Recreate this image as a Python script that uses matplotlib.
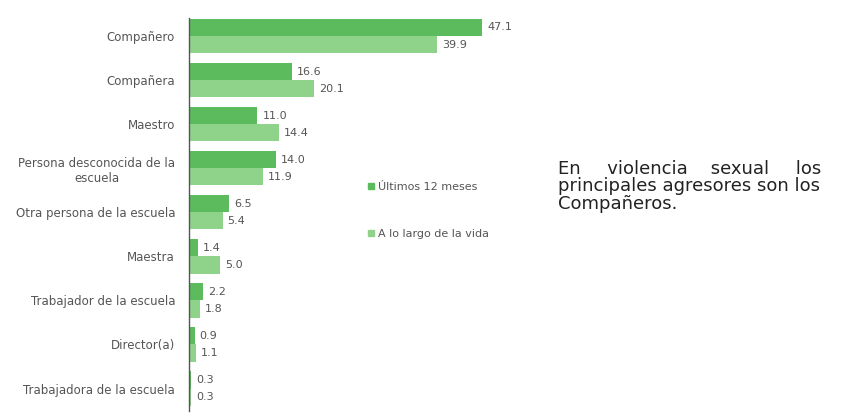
import matplotlib.pyplot as plt
import numpy as np
from matplotlib.patches import Patch

categories = [
    "Compañero",
    "Compañera",
    "Maestro",
    "Persona desconocida de la\nescuela",
    "Otra persona de la escuela",
    "Maestra",
    "Trabajador de la escuela",
    "Director(a)",
    "Trabajadora de la escuela",
]
ultimos_12 = [47.1, 16.6, 11.0, 14.0, 6.5, 1.4, 2.2, 0.9, 0.3]
toda_vida = [39.9, 20.1, 14.4, 11.9, 5.4, 5.0, 1.8, 1.1, 0.3]
series_labels = ["Últimos 12 meses", "A lo largo de la vida"]

dark_green = "#5cbb5c"
light_green = "#8fd38a"
text_gray = "#555555"

plt.rcParams['font.family'] = ['DejaVu Sans']

fig = plt.figure(figsize=(8.47, 4.15), dpi=100)
# axes: x from 189 px, y from bottom edge up to 14 px below the top
ax = fig.add_axes([189 / 847, 0.0, (540 - 189) / 847, (415 - 14) / 415])

y = np.arange(len(categories))
h = 0.39
ax.barh(y - h / 2, ultimos_12, height=h, color=dark_green, label=series_labels[0])
ax.barh(y + h / 2, toda_vida, height=h, color=light_green, label=series_labels[1])

for yi, v in zip(y, ultimos_12):
    ax.text(v + 0.8, yi - h / 2, f"{v:.1f}", va="center", ha="left",
            fontsize=8, color=text_gray)
for yi, v in zip(y, toda_vida):
    ax.text(v + 0.8, yi + h / 2, f"{v:.1f}", va="center", ha="left",
            fontsize=8, color=text_gray)

ax.set_ylim(8.6, -0.5)
ax.set_xlim(0, (540 - 189) / 6.22)
ax.set_yticks(y)
ax.set_yticklabels(categories, fontsize=8.5, color=text_gray, multialignment="center")
ax.tick_params(axis="y", length=0, pad=10)
ax.set_xticks([])
for s in ["top", "right", "bottom"]:
    ax.spines[s].set_visible(False)
ax.spines["left"].set_color("#555555")
ax.spines["left"].set_linewidth(1.0)
ax.spines["left"].set_bounds(8.5, -0.4)

handles = [Patch(color=dark_green), Patch(color=light_green)]
fig.legend(handles, series_labels, loc="upper left",
           bbox_to_anchor=(358 / 847, 1 - 172 / 415), frameon=False,
           fontsize=8, handlelength=0.5, handleheight=0.5, handletextpad=0.4,
           labelspacing=3.3, labelcolor=text_gray)

# Justified note on the right (first line padded with extra spaces)
note = ("En    \u2009violencia    sexual    \u2009los\n"
        "principales agresores son los\n"
        "Compañeros.")
fig.text(558 / 847, 1 - 160 / 415, note, fontsize=13, color="#222222",
         va="top", ha="left", linespacing=0.95)

fig.savefig("out.png", dpi=100)
